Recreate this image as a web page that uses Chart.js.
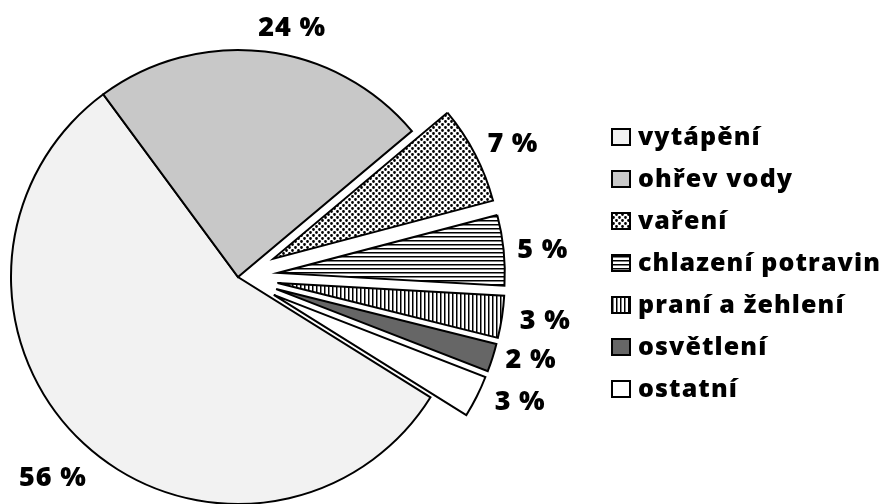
<!DOCTYPE html>
<html lang="cs">
<head>
<meta charset="utf-8">
<title>Spotřeba energie v domácnosti</title>
<script src="https://cdn.jsdelivr.net/npm/chart.js@4.4.1/dist/chart.umd.min.js"></script>
<style>
  html, body { margin: 0; padding: 0; background: #fff; }
  #wrap { width: 885px; height: 504px; }
</style>
</head>
<body>
<div id="wrap"><canvas id="chart" width="885" height="504"></canvas></div>
<script>
// -------------------------------
// DATA
// -------------------------------
const categories = ["vytápění", "ohřev vody", "vaření", "chlazení potravin", "praní a žehlení", "osvětlení", "ostatní"];
const shares = [56, 24, 7, 5, 3, 2, 3];
const shareLabels = shares.map(v => v + " %");

// -------------------------------
// LAYOUT (explode + label placement)
// -------------------------------
const EXPLODE = [0, 0, 40, 40, 40, 40, 40];
const LABEL_PAD = [45, 29, 39, 39, 43, 37, 41];
const LABEL_SHIFT = [0.1, 5.4, 1.5, 0.6, -0.9, -2.5, -3.4]; // degrees
const FONT = "'Open Sans', 'DejaVu Sans', sans-serif";

// -------------------------------
// FILL PATTERNS
// -------------------------------
function tile(w, h, paint) {
  const c = document.createElement("canvas");
  c.width = w;
  c.height = h;
  const g = c.getContext("2d");
  g.fillStyle = "#fff";
  g.fillRect(0, 0, w, h);
  g.fillStyle = "#000";
  paint(g);
  return g.createPattern(c, "repeat");
}

const dots = tile(6, 6, g => {
  g.beginPath();
  g.arc(1.5, 1.5, 1.4, 0, Math.PI * 2);
  g.arc(4.5, 4.5, 1.4, 0, Math.PI * 2);
  g.fill();
});
const hLines = tile(1, 4, g => g.fillRect(0, 0, 1, 1.5));
const vLines = tile(4, 1, g => g.fillRect(0, 0, 1.5, 1));

const fills = ["#f2f2f2", "#c8c8c8", dots, hLines, vLines, "#666666", "#ffffff"];

// -------------------------------
// PLUGINS
// -------------------------------
const explodePlugin = {
  id: "explode",
  afterDatasetUpdate(chart, args) {
    args.meta.data.forEach((arc, i) => {
      const d = EXPLODE[i] || 0;
      if (!d) return;
      const mid = (arc.startAngle + arc.endAngle) / 2;
      arc.x += Math.cos(mid) * d;
      arc.y += Math.sin(mid) * d;
    });
  }
};

const labelPlugin = {
  id: "sliceLabels",
  afterDatasetsDraw(chart) {
    const ctx = chart.ctx;
    const meta = chart.getDatasetMeta(0);
    const size = 27;
    ctx.save();
    ctx.font = "800 " + size + "px " + FONT;
    ctx.letterSpacing = "0.8px";
    ctx.fillStyle = "#000";
    ctx.textAlign = "center";
    ctx.textBaseline = "alphabetic";
    meta.data.forEach((arc, i) => {
      const a = (arc.startAngle + arc.endAngle) / 2 + LABEL_SHIFT[i] * Math.PI / 180;
      const r = arc.outerRadius + LABEL_PAD[i];
      const x = arc.x + Math.cos(a) * r;
      const y = arc.y + Math.sin(a) * r;
      ctx.fillText(shareLabels[i], x, y + size * 0.357);
    });
    ctx.restore();
  }
};

const legendPlugin = {
  id: "sideLegend",
  afterDraw(chart) {
    const ctx = chart.ctx;
    const ds = chart.data.datasets[0];
    ctx.save();
    ctx.font = "800 25px " + FONT;
    ctx.letterSpacing = "1.1px";
    ctx.textBaseline = "alphabetic";
    chart.data.labels.forEach((label, i) => {
      const y = 137 + i * 42;
      ctx.fillStyle = ds.backgroundColor[i];
      ctx.fillRect(612, y - 8, 18, 16);
      ctx.strokeStyle = "#000";
      ctx.lineWidth = 2;
      ctx.strokeRect(612, y - 8, 18, 16);
      ctx.fillStyle = "#000";
      ctx.fillText(label, 638, y + 8.2);
    });
    ctx.restore();
  }
};

// -------------------------------
// CHART
// -------------------------------
new Chart(document.getElementById("chart").getContext("2d"), {
  type: "pie",
  data: {
    labels: categories,
    datasets: [{
      data: shares,
      backgroundColor: fills,
      borderColor: "#000",
      borderWidth: 2,
      borderJoinStyle: "miter",
      clip: false
    }]
  },
  options: {
    responsive: false,
    animation: false,
    rotation: 122,
    radius: 227,
    layout: { padding: { top: 50, left: 0, right: 409, bottom: 0 } },
    plugins: {
      legend: { display: false },
      tooltip: { enabled: false }
    }
  },
  plugins: [explodePlugin, labelPlugin, legendPlugin]
});
</script>
</body>
</html>
